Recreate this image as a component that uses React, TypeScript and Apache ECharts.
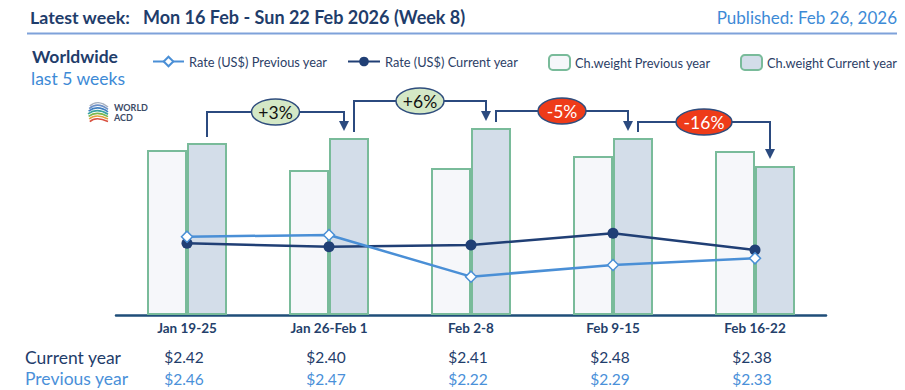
import React, { useEffect, useRef } from "react";
import * as echarts from "echarts";

const categories = ["Jan 19-25", "Jan 26-Feb 1", "Feb 2-8", "Feb 9-15", "Feb 16-22"];
const weightPrev = [165, 145, 147, 159, 164];
const weightCur = [172, 177, 187, 177, 149];
const rateCur = [2.42, 2.4, 2.41, 2.48, 2.38];
const ratePrev = [2.46, 2.47, 2.22, 2.29, 2.33];
const changeLabels = ["+3%", "+6%", "-5%", "-16%"];
const seriesNames = [
  "Ch.weight Previous year",
  "Ch.weight Current year",
  "Rate (US$) Previous year",
  "Rate (US$) Current year",
];

const FONT = "Lato, 'Noto Sans', sans-serif";
const NAVY = "#1f3d6b";
const LIGHT = "#3d8ad6";
const GREEN_BORDER = "#79bb9a";
const BAR_W = 40;
const ARROW_LIFT = [26, 27, 17, 16];

export default function App() {
  const ref = useRef<HTMLDivElement>(null);

  useEffect(() => {
    if (!ref.current) return;
    const chart = echarts.init(ref.current, undefined, { renderer: "svg" });

    const legendBase = {
      orient: "horizontal",
      itemGap: 0,
      textStyle: { color: "#2c3e66", fontSize: 12.8, fontFamily: FONT },
      selectedMode: false,
    };

    chart.setOption({
      animation: false,
      backgroundColor: "#ffffff",
      legend: [
        { ...legendBase, data: [seriesNames[2]], left: 147, top: 50, itemWidth: 31, itemHeight: 12 },
        { ...legendBase, data: [seriesNames[3]], left: 342, top: 50, itemWidth: 32, itemHeight: 12 },
        { ...legendBase, data: [seriesNames[0]], left: 543, top: 49, itemWidth: 21, itemHeight: 15 },
        { ...legendBase, data: [seriesNames[1]], left: 735, top: 49, itemWidth: 21, itemHeight: 15 },
      ],
      grid: { left: 116, right: 79, top: 115, bottom: 75 },
      xAxis: {
        type: "category",
        data: categories,
        axisLine: { lineStyle: { color: "#1f4e79", width: 2.5 } },
        axisTick: { show: false },
        axisLabel: { color: "#243f6b", fontWeight: "bold", fontSize: 13.5, fontFamily: FONT, margin: 6 },
      },
      yAxis: [
        { type: "value", min: 0, max: 200, show: false, splitLine: { show: false } },
        { type: "value", min: 1.99, max: 3.19, show: false, splitLine: { show: false } },
      ],
      series: [
        {
          name: seriesNames[0],
          type: "bar",
          data: weightPrev,
          barWidth: BAR_W,
          barGap: "0%",
          itemStyle: { color: "#f6f7fa", borderColor: GREEN_BORDER, borderWidth: 2 },
        },
        {
          name: seriesNames[1],
          type: "bar",
          data: weightCur,
          barWidth: BAR_W,
          barGap: "0%",
          itemStyle: { color: "#d3dde9", borderColor: GREEN_BORDER, borderWidth: 2 },
        },
        {
          name: seriesNames[3],
          type: "line",
          yAxisIndex: 1,
          data: rateCur,
          symbol: "circle",
          symbolSize: 11,
          lineStyle: { color: "#203f75", width: 2.5 },
          itemStyle: { color: "#203f75" },
          z: 3,
        },
        {
          name: seriesNames[2],
          type: "line",
          yAxisIndex: 1,
          data: ratePrev,
          symbol: "diamond",
          symbolSize: 11,
          lineStyle: { color: "#4a8fd6", width: 2.5 },
          itemStyle: { color: "#ffffff", borderColor: "#4a8fd6", borderWidth: 1.5 },
          z: 4,
        },
      ],
    });

    const toPx = (i: number, v: number) =>
      chart.convertToPixel({ xAxisIndex: 0, yAxisIndex: 0 }, [i, v]) as number[];

    const elements: any[] = [];

    // Header
    elements.push(
      { type: "text", x: 30, y: 17, style: { text: "Latest week:", fill: NAVY, font: `bold 17.8px ${FONT}`, textVerticalAlign: "middle" } },
      { type: "text", x: 143, y: 17, style: { text: "Mon 16 Feb - Sun 22 Feb 2026 (Week 8)", fill: NAVY, font: `bold 18px ${FONT}`, textVerticalAlign: "middle" } },
      { type: "text", x: 897, y: 17, style: { text: "Published: Feb 26, 2026", fill: LIGHT, font: `17px ${FONT}`, textAlign: "right", textVerticalAlign: "middle" } },
      { type: "line", shape: { x1: 27, y1: 33.5, x2: 897, y2: 33.5 }, style: { stroke: "#7ea2da", lineWidth: 2 } },
      { type: "text", x: 32, y: 56, style: { text: "Worldwide", fill: NAVY, font: `bold 17.5px ${FONT}`, textVerticalAlign: "middle" } },
      { type: "text", x: 31, y: 78, style: { text: "last 5 weeks", fill: LIGHT, font: `17.5px ${FONT}`, textVerticalAlign: "middle" } }
    );

    // Logo
    const stripeColors = ["#a7b1c0", "#6b8fc6", "#3f7fc0", "#3aa3a0", "#79b84e", "#e5a040", "#d9503f"];
    const logoChildren: any[] = stripeColors.map((c, k) => ({
      type: "bezierCurve",
      shape: { x1: 0 + Math.abs(k - 3) * 0.6, y1: 4 + k * 2.6, cpx1: 7, cpy1: -1 + k * 2.6, cpx2: 14, cpy2: 0 + k * 2.8, x2: 20, y2: 5 + k * 2.4 },
      style: { stroke: c, lineWidth: 1.6, fill: null },
    }));
    logoChildren.push(
      { type: "text", x: 26, y: 5.5, style: { text: "WORLD", fill: "#3b4a66", font: `bold 9px ${FONT}`, textVerticalAlign: "middle" } },
      { type: "text", x: 26, y: 15.5, style: { text: "ACD", fill: "#3b4a66", font: `bold 9px ${FONT}`, textVerticalAlign: "middle" } }
    );
    elements.push({ type: "group", x: 88, y: 102, children: logoChildren });

    // Change arrows with bubbles
    const arrowColor = "#2b4a7f";
    for (let i = 0; i < weightCur.length - 1; i++) {
      const a = toPx(i, weightCur[i]);
      const b = toPx(i + 1, weightCur[i + 1]);
      const x1 = a[0] + BAR_W / 2 + (i === 0 ? 0 : 5);
      const x2 = b[0] + BAR_W / 2 - 5;
      const hy = Math.min(a[1], b[1]) - ARROW_LIFT[i];
      const tipY = b[1] - 7;
      elements.push({
        type: "polyline",
        shape: { points: [[x1, a[1] - 6], [x1, hy], [x2, hy], [x2, tipY - 8]] },
        style: { stroke: arrowColor, lineWidth: 2, fill: null },
      });
      elements.push({
        type: "polygon",
        shape: { points: [[x2 - 5, tipY - 10], [x2 + 5, tipY - 10], [x2, tipY]] },
        style: { fill: arrowColor },
      });
      const label = changeLabels[i];
      const positive = label.startsWith("+");
      const cx = (x1 + x2) / 2;
      elements.push({
        type: "ellipse",
        shape: { cx, cy: hy, rx: 12 + 4 * label.length, ry: 13 },
        style: { fill: positive ? "#d4e8c6" : "#ee3b19", stroke: "#2f4d7d", lineWidth: 1.5 },
        z: 10,
      });
      elements.push({
        type: "text",
        x: cx,
        y: hy,
        z: 11,
        style: {
          text: label,
          fill: positive ? "#111111" : "#ffffff",
          font: `17.5px ${FONT}`,
          textAlign: "center",
          textVerticalAlign: "middle",
        },
      });
    }

    // Bottom table
    elements.push(
      { type: "text", x: 25, y: 357, style: { text: "Current year", fill: NAVY, font: `17.5px ${FONT}`, textVerticalAlign: "middle" } },
      { type: "text", x: 25, y: 378.5, style: { text: "Previous year", fill: "#4a90d9", font: `17.5px ${FONT}`, textVerticalAlign: "middle" } }
    );
    for (let i = 0; i < categories.length; i++) {
      const p = toPx(i, 0);
      elements.push(
        { type: "text", x: p[0] - 3, y: 357, style: { text: `$${rateCur[i].toFixed(2)}`, fill: NAVY, font: `15.5px ${FONT}`, textAlign: "center", textVerticalAlign: "middle" } },
        { type: "text", x: p[0] - 3, y: 378.5, style: { text: `$${ratePrev[i].toFixed(2)}`, fill: "#4a90d9", font: `15.5px ${FONT}`, textAlign: "center", textVerticalAlign: "middle" } }
      );
    }

    chart.setOption({ graphic: { elements } });

    return () => chart.dispose();
  }, []);

  return (
    <div
      ref={ref}
      style={{ position: "fixed", left: 0, top: 0, width: 905, height: 390, background: "#fff" }}
    />
  );
}
